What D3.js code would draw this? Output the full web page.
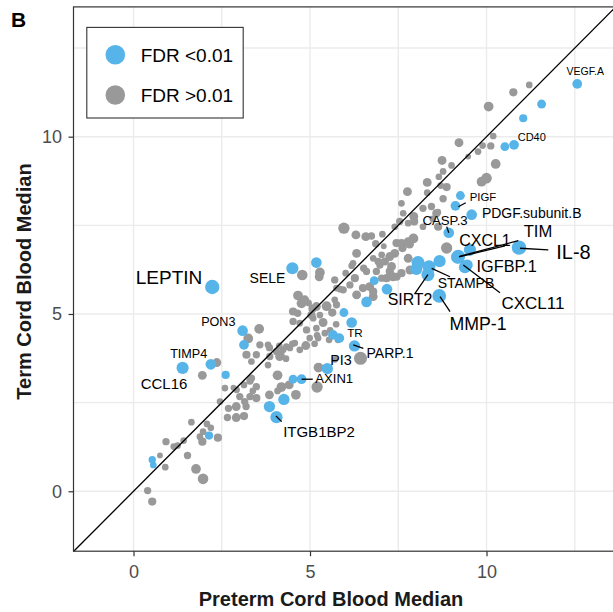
<!DOCTYPE html>
<html lang="en">
<head>
<meta charset="UTF-8">
<title>Preterm vs Term Cord Blood</title>
<style>
  body { margin: 0; background: #fff; }
  svg text { font-family: "Liberation Sans", Arial, Helvetica, sans-serif; }
</style>
</head>
<body>
<div id="chart"></div>
<script src="https://d3js.org/d3.v7.min.js"></script>
<script>
// ticks / grid
var majorTicks = [0, 5, 10];
var minorTicks = [2.5, 7.5, 12.5];

// FDR > 0.01 proteins (preterm median, term median, point size)
var nsPre = [
  11.21, 10.76, 10.06, 10.19, 9.89, 10.12, 9.22, 9.76, 10.26, 8.74,
  9.01, 9.48, 10.00, 9.86, 8.77, 8.65, 8.32, 8.87, 7.76, 8.77,
  8.32, 8.70, 8.20, 8.44, 8.58, 7.94, 7.64, 7.54, 7.40, 7.78,
  8.20, 8.63, 8.48, 8.62, 7.95, 8.87, 7.59,
  6.30, 6.58, 6.74, 7.05, 6.86, 6.32, 6.22, 6.01, 6.52, 6.27,
  6.93, 7.03, 7.31, 7.40, 7.45, 7.35, 7.17, 6.32, 6.79, 7.59,
  7.78, 7.26, 7.12, 6.98, 6.79, 6.60, 6.88, 7.03, 6.69, 6.50,
  6.79, 5.94, 6.13, 5.70, 5.75, 5.70, 7.26, 7.45, 7.83, 7.59,
  7.78, 7.62, 7.82, 7.93, 5.28, 5.26, 4.78, 7.09, 5.96, 6.18, 5.85,
  3.56, 3.25, 3.58, 3.81, 3.20, 3.48, 3.34, 3.86, 4.05, 4.14,
  3.81, 4.57, 4.33, 4.65, 4.52, 4.71, 5.09, 4.90, 5.18, 4.99,
  5.37, 5.42, 5.23, 4.88, 4.71, 4.43, 4.66, 4.76, 4.85, 5.07,
  5.18, 5.47, 5.63, 5.04, 5.28, 5.75, 5.57, 5.74, 5.20, 5.54,
  5.79, 5.13, 4.52, 4.96, 4.50, 4.16, 4.32, 4.13, 4.24, 3.85,
  5.71, 5.24, 6.43, 5.20,
  4.08, 4.19, 4.41, 4.60, 4.08, 3.85, 3.30, 3.13, 3.34, 3.48,
  2.92, 2.59, 3.01, 3.30, 3.48, 2.45, 3.38, 3.19, 2.91, 2.69,
  2.66, 2.91, 3.13, 2.83, 2.36, 1.95, 3.15,
  1.64, 2.08, 2.19, 1.97, 1.95, 2.39, 1.88, 1.53, 1.25, 1.14,
  0.92, 0.90, 0.75, 1.77, 1.97, 0.40, 0.53, 1.42
];
var nsTerm = [
  11.46, 11.25, 10.85, 10.02, 9.75, 9.74, 9.83, 9.58, 9.23, 9.33,
  9.19, 9.44, 8.83, 8.73, 9.02, 8.87, 8.71, 8.58, 8.45, 8.25,
  8.42, 8.62, 7.98, 8.03, 7.84, 7.75, 7.84, 7.61, 7.46, 7.56,
  7.46, 7.46, 7.68, 7.87, 7.61, 6.86, 8.12,
  7.23, 7.18, 7.20, 7.25, 6.98, 6.71, 6.43, 6.15, 6.29, 6.01,
  6.48, 6.67, 6.34, 6.71, 7.00, 6.05, 6.01, 5.54, 5.49, 7.00,
  7.04, 6.62, 6.48, 6.38, 6.57, 6.20, 6.20, 6.01, 5.77, 5.73,
  5.63, 5.68, 5.82, 5.96, 5.73, 5.40, 6.20, 6.05, 6.24, 6.15,
  6.57, 6.86, 6.97, 7.13, 6.17, 6.05, 6.10, 6.91, 7.42, 6.36, 5.70,
  4.58, 4.31, 4.13, 4.13, 3.85, 3.85, 3.66, 3.80, 3.94, 3.80,
  3.56, 4.18, 4.08, 5.02, 4.79, 4.74, 4.88, 4.55, 4.60, 4.32,
  4.76, 4.46, 4.32, 4.11, 3.99, 4.04, 5.52, 5.30, 5.40, 5.15,
  5.21, 5.22, 5.04, 4.97, 4.97, 5.26, 4.54, 4.71, 4.40, 4.27,
  4.27, 4.16, 5.07, 5.31, 4.16, 3.83, 3.74, 4.10, 3.99, 4.05,
  3.72, 3.49, 3.75, 2.94,
  3.27, 2.94, 3.00, 2.72, 2.83, 2.72, 3.11, 3.00, 3.19, 2.95,
  2.86, 2.91, 2.67, 2.67, 2.63, 2.53, 2.83, 2.39, 2.39, 2.34,
  2.08, 2.08, 2.12, 2.92, 3.63, 3.27, 2.53,
  1.95, 1.90, 1.79, 1.68, 1.40, 1.51, 1.54, 1.01, 1.29, 1.26,
  1.40, 0.68, 1.01, 0.63, 0.35, 0.02, -0.29, 1.43
];
var nsSize = [
  1.4, 2.1, 2.8, 1.4, 1.4, 1.7, 2.4, 1.4, 2.8, 2.4,
  1.4, 1.0, 3.2, 2.8, 1.4, 1.4, 2.4, 2.1, 2.4, 1.7,
  1.4, 1.4, 1.7, 1.7, 2.1, 2.4, 1.4, 1.7, 1.4, 1.4,
  1.4, 2.1, 1.4, 1.4, 2.1, 3.5, 1.4,
  2.4, 2.4, 1.7, 1.4, 1.7, 2.4, 1.4, 1.4, 1.7, 2.1,
  1.7, 1.4, 2.4, 2.4, 2.1, 2.4, 2.1, 2.4, 2.4, 2.1,
  2.4, 2.4, 2.1, 1.7, 1.4, 1.7, 1.7, 1.7, 2.4, 2.1,
  2.1, 1.7, 1.7, 1.7, 1.4, 1.4, 2.1, 2.1, 2.4, 2.1,
  2.4, 2.1, 2.4, 2.8, 2.8, 2.4, 3.2, 1.0, 3.5, 1.4, 1.4,
  2.8, 2.8, 1.7, 1.4, 2.1, 1.7, 1.4, 1.7, 1.7, 2.4,
  1.4, 1.4, 1.4, 1.7, 1.7, 1.4, 1.4, 1.7, 1.4, 1.4,
  2.4, 1.4, 1.4, 2.4, 1.4, 1.4, 2.8, 2.8, 2.4, 2.1,
  2.4, 2.8, 2.1, 2.1, 1.4, 1.7, 1.4, 1.4, 1.4, 1.4,
  1.4, 1.4, 2.1, 1.4, 1.4, 2.4, 1.4, 1.4, 1.4, 1.7,
  1.4, 2.8, 4.3, 3.5,
  2.8, 2.8, 2.4, 2.8, 1.4, 2.4, 1.7, 1.4, 1.7, 1.7,
  1.4, 1.4, 1.7, 1.7, 2.1, 1.4, 1.4, 1.7, 2.4, 1.7,
  1.7, 2.4, 2.1, 1.0, 2.4, 2.4, 1.7,
  1.4, 1.4, 1.4, 1.4, 2.1, 2.1, 1.4, 1.7, 1.4, 1.4,
  1.7, 1.4, 1.0, 2.8, 3.2, 1.7, 2.1, 1.4
];

// FDR < 0.01 proteins
var sigName = [
  "VEGF.A", "", "", "CD40", "", "", "PIGF", "PDGF.subunit.B", "CASP.3", "IL-8",
  "CXCL1", "TIM", "", "IGFBP.1", "CXCL11", "", "STAMPB", "", "", "SIRT2",
  "MMP-1", "", "", "", "LEPTIN", "SELE", "", "PON3", "", "TIMP4",
  "CCL16", "", "", "TR", "", "", "PARP.1", "PI3", "AXIN1", "",
  "", "", "ITGB1BP2", "", "", ""
];
var sigPre = [
  12.57, 11.56, 11.04, 10.78, 10.52, 9.26, 9.12, 9.58, 8.93, 10.92,
  9.18, 9.20, 9.53, 9.45, 9.39, 8.06, 8.37, 8.67, 8.01, 8.34,
  8.66, 6.82, 7.18, 6.60, 2.23, 4.50, 5.18, 3.09, 3.13, 2.19,
  1.39, 2.61, 5.96, 6.18, 5.65, 5.83, 6.26, 5.49, 4.76, 4.52,
  4.26, 3.85, 4.05, 0.53, 0.56, 2.14
];
var sigTerm = [
  11.49, 10.92, 10.52, 9.77, 9.72, 8.34, 8.05, 7.80, 7.29, 6.87,
  6.60, 6.62, 6.81, 6.38, 6.32, 6.45, 6.33, 6.49, 6.27, 6.11,
  5.51, 5.94, 5.70, 5.34, 5.76, 6.29, 6.45, 4.53, 4.13, 3.58,
  3.48, 3.28, 5.04, 4.76, 4.41, 4.32, 4.10, 3.46, 3.16, 3.16,
  2.59, 2.39, 2.09, 0.89, 0.74, 1.57
];
var sigSize = [
  2.8, 2.4, 2.1, 2.8, 2.4, 2.4, 2.8, 3.2, 3.2, 4.9,
  4.3, 4.6, 3.9, 3.5, 3.9, 4.3, 4.3, 3.9, 3.9, 4.3,
  4.6, 2.4, 3.2, 3.2, 4.9, 3.9, 3.2, 3.2, 2.8, 3.2,
  3.9, 2.1, 2.4, 3.2, 2.8, 2.8, 3.5, 3.5, 2.8, 2.4,
  3.5, 3.5, 3.9, 1.7, 1.4, 2.1
];

// label placement (px offset from the point), font size, leader segment
var labelLayout = {
  "VEGF.A":         {dx: 8,     dy: -12.7, fs: 10.5},
  "CD40":           {dx: 17.7,  dy: -7.3,  fs: 11},
  "PIGF":           {dx: 27.6,  dy: -8.5,  fs: 11.4, seg: [2.9, 0.9, 10.3, -3.1]},
  "PDGF.subunit.B": {dx: 60,    dy: -1.4,  fs: 14},
  "CASP.3":         {dx: -3.7,  dy: -12.8, fs: 13.2, seg: [-2, -6.2, 0, 0]},
  "IL-8":           {dx: 54.5,  dy: 4,     fs: 20, seg: [1, 0.6, 29.3, 2.3]},
  "CXCL1":          {dx: 27.4,  dy: -17.3, fs: 16, seg: [47.4, -11.3, 1.4, -0.3]},
  "TIM":            {dx: 79.7,  dy: -25.9, fs: 16.6, seg: [60, -15.9, 1.2, -0.1]},
  "IGFBP.1":        {dx: 39.6,  dy: 0.9,   fs: 16.3},
  "CXCL11":         {dx: 68,    dy: 35.5,  fs: 17, seg: [-1.7, -2.2, 35, 25.5]},
  "STAMPB":         {dx: 37,    dy: 15.9,  fs: 14, seg: [2.7, 1.5, 21, 9.9]},
  "SIRT2":          {dx: -17.9, dy: 24.7,  fs: 15.9, seg: [0, 0, -12.9, 18.7]},
  "MMP-1":          {dx: 38.8,  dy: 28.1,  fs: 17.7, seg: [0.8, 0.8, 10.8, 15.8]},
  "LEPTIN":         {dx: -43.2, dy: -9.7,  fs: 19},
  "SELE":           {dx: -24.9, dy: 10,    fs: 14},
  "PON3":           {dx: -24.3, dy: -9,    fs: 12.6},
  "TIMP4":          {dx: -22.1, dy: -11,   fs: 12.6},
  "CCL16":          {dx: -18.6, dy: 16.1,  fs: 15},
  "TR":             {dx: 3.3,   dy: 10.8,  fs: 11.7},
  "PARP.1":         {dx: 35.5,  dy: 6.8,   fs: 14, seg: [-1.2, -0.9, 8.8, 2.4]},
  "PI3":            {dx: 13.7,  dy: -8.9,  fs: 14.3},
  "AXIN1":          {dx: 32.7,  dy: -0.8,  fs: 13.1, seg: [0, 0, 11.2, 0]},
  "ITGB1BP2":       {dx: 42.5,  dy: 14,    fs: 15, seg: [-0.5, -1.2, 5.2, 4.5]}
};

var width = 613, height = 612;
var plotLeft = 73.5, plotRight = 613.6, plotTop = 6.9, plotBottom = 551.2;

var svg = d3.select("#chart").append("svg")
    .attr("width", width)
    .attr("height", height);

var x = d3.scaleLinear().domain([-1.7, 13.6]).range([plotLeft, plotRight]);
var y = d3.scaleLinear().domain([-1.69, 13.66]).range([plotBottom, plotTop]);
var r = d3.scaleLinear().domain([1, 5]).range([2.9, 7.3]);

var blue = "#56b4e9", grey = "#999999";

// grid
var grid = svg.append("g");
majorTicks.concat(minorTicks).forEach(function(t) {
    grid.append("line")
        .attr("x1", x(t)).attr("x2", x(t))
        .attr("y1", plotTop).attr("y2", plotBottom)
        .attr("stroke", "#ebebeb").attr("stroke-width", 1.4);
    grid.append("line")
        .attr("x1", plotLeft).attr("x2", plotRight)
        .attr("y1", y(t)).attr("y2", y(t))
        .attr("stroke", "#ebebeb").attr("stroke-width", 1.4);
});

// points
var nsData = nsPre.map(function(d, i) { return {pre: d, term: nsTerm[i], size: nsSize[i]}; });
var sigData = sigPre.map(function(d, i) {
    return {name: sigName[i], pre: d, term: sigTerm[i], size: sigSize[i]};
});

svg.append("g").selectAll("circle")
    .data(nsData)
    .enter().append("circle")
    .attr("cx", function(d) { return x(d.pre); })
    .attr("cy", function(d) { return y(d.term); })
    .attr("r", function(d) { return r(d.size); })
    .attr("fill", grey);

svg.append("g").selectAll("circle")
    .data(sigData)
    .enter().append("circle")
    .attr("cx", function(d) { return x(d.pre); })
    .attr("cy", function(d) { return y(d.term); })
    .attr("r", function(d) { return r(d.size); })
    .attr("fill", blue);

// identity line
svg.append("line")
    .attr("x1", x(-1.7)).attr("y1", y(-1.7))
    .attr("x2", x(13.6)).attr("y2", y(13.6))
    .attr("stroke", "#000").attr("stroke-width", 1.3);

// labels + leader segments
var labelled = sigData.filter(function(d) { return d.name !== ""; });
var lab = svg.append("g");
labelled.forEach(function(d) {
    var L = labelLayout[d.name];
    var px = x(d.pre), py = y(d.term);
    if (L.seg) {
        lab.append("line")
            .attr("x1", px + L.seg[0]).attr("y1", py + L.seg[1])
            .attr("x2", px + L.seg[2]).attr("y2", py + L.seg[3])
            .attr("stroke", "#000").attr("stroke-width", 1.3);
    }
    lab.append("text")
        .attr("x", px + L.dx)
        .attr("y", py + L.dy)
        .attr("dy", "0.36em")
        .attr("text-anchor", "middle")
        .style("font-size", L.fs + "px")
        .attr("fill", "#000")
        .text(d.name);
});

// panel border
svg.append("rect")
    .attr("x", plotLeft).attr("y", plotTop)
    .attr("width", plotRight - plotLeft).attr("height", plotBottom - plotTop)
    .attr("fill", "none").attr("stroke", "#333").attr("stroke-width", 1.2);

// axes
var xAxis = svg.append("g")
    .attr("transform", "translate(0," + plotBottom + ")")
    .call(d3.axisBottom(x).tickValues(majorTicks).tickSize(5).tickPadding(9));
var yAxis = svg.append("g")
    .attr("transform", "translate(" + plotLeft + ",0)")
    .call(d3.axisLeft(y).tickValues(majorTicks).tickSize(5).tickPadding(6.5));
[xAxis, yAxis].forEach(function(a) {
    a.select(".domain").remove();
    a.selectAll(".tick line").attr("stroke", "#333").attr("stroke-width", 1.2);
    a.selectAll(".tick text")
        .attr("fill", "#4d4d4d")
        .style("font-size", "18px")
        .style("font-family", "'Liberation Sans', Arial, sans-serif");
});

// axis titles
svg.append("text")
    .attr("x", 331).attr("y", 606)
    .attr("text-anchor", "middle")
    .style("font-size", "20px").style("font-weight", "bold")
    .attr("fill", "#1a1a1a")
    .text("Preterm Cord Blood Median");

svg.append("text")
    .attr("transform", "translate(31,281.5) rotate(-90)")
    .attr("text-anchor", "middle")
    .style("font-size", "20px").style("font-weight", "bold")
    .attr("fill", "#1a1a1a")
    .text("Term Cord Blood Median");

// panel tag
svg.append("text")
    .attr("x", 11).attr("y", 27)
    .style("font-size", "21px").style("font-weight", "bold")
    .attr("fill", "#000")
    .text("B");

// legend
var legendItems = ["FDR <0.01", "FDR >0.01"];
var legendColors = [blue, grey];
var lg = svg.append("g");
lg.append("rect")
    .attr("x", 86.8).attr("y", 27.4)
    .attr("width", 156.4).attr("height", 90.6)
    .attr("fill", "#fff").attr("stroke", "#333").attr("stroke-width", 1.1);
legendItems.forEach(function(t, i) {
    var cy = 54.7 + i * 40.3;
    lg.append("circle").attr("cx", 115.3).attr("cy", cy).attr("r", 9.8).attr("fill", legendColors[i]);
    lg.append("text")
        .attr("x", 140.7).attr("y", cy).attr("dy", "0.36em")
        .style("font-size", "19px")
        .attr("fill", "#000")
        .text(t);
});
</script>
</body>
</html>
